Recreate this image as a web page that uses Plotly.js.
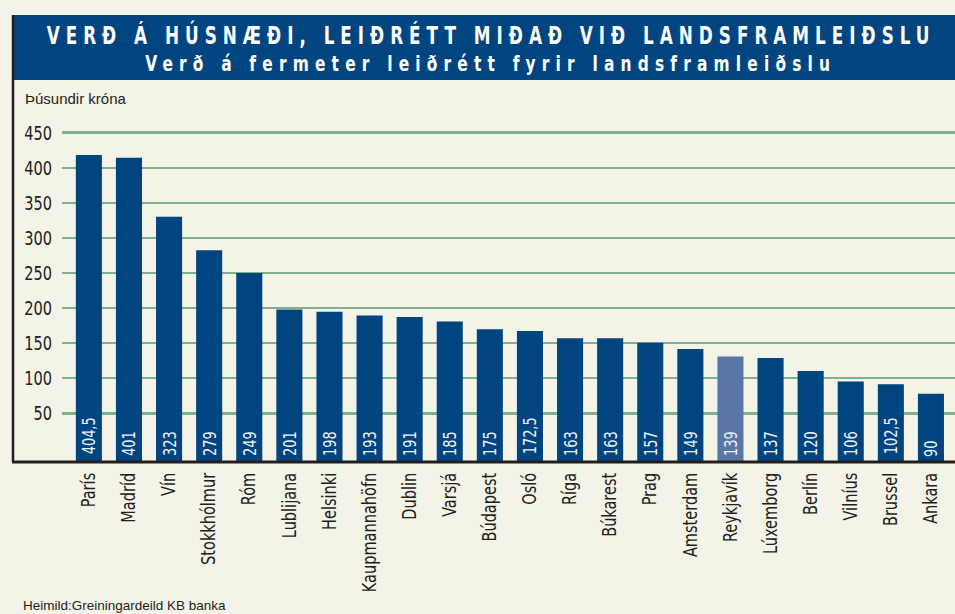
<!DOCTYPE html>
<html>
<head>
<meta charset="utf-8">
<script src="https://cdn.plot.ly/plotly-3.0.1.min.js"></script>
<style>
  html, body { margin: 0; padding: 0; background: #f4f3e8; }
  #chart { width: 955px; height: 614px; }
</style>
</head>
<body>
<div id="chart"></div>
<script>
// ---- Data ----
const cities = ["París", "Madríd", "Vín", "Stokkhólmur", "Róm", "Lublijana", "Helsinki",
  "Kaupmannahöfn", "Dublin", "Varsjá", "Búdapest", "Osló", "Ríga", "Búkarest", "Prag",
  "Amsterdam", "Reykjavík", "Lúxemborg", "Berlín", "Vilníus", "Brussel", "Ankara"];
const pricePerSqm = [404.5, 401, 323, 279, 249, 201, 198, 193, 191, 185, 175, 172.5,
  163, 163, 157, 149, 139, 137, 120, 106, 102.5, 90];
const highlightCity = "Reykjavík";
const yTickValues = [50, 100, 150, 200, 250, 300, 350, 400, 450];

const titleLine1 = "VERÐ Á HÚSNÆÐI, LEIÐRÉTT MIÐAÐ VIÐ LANDSFRAMLEIÐSLU";
const titleLine2 = "Verð á fermeter leiðrétt fyrir landsframleiðslu";
const unitLabel = "Þúsundir króna";
const sourceLabel = "Heimild:Greiningardeild KB banka";

// ---- Styling ----
const W = 955, H = 614;
const ML = 62, MR = 0, MT = 115, MB = 152;
const PW = W - ML - MR, PH = H - MT - MB;
const px2x = px => (px - ML) / PW;
const px2y = py => (H - MB - py) / PH;

const DARK = "#004580";
const LIGHT = "#5a76a7";
const BG = "#f4f3e8";
const GRID = "#80b08d";
const INK = "#231f20";
const NARROW = "DejaVu Sans Condensed, Liberation Sans Narrow, sans-serif";

const labels = pricePerSqm.map(v => String(v).replace(".", ","));
const colors = cities.map(c => c === highlightCity ? LIGHT : DARK);

const data = [
  // invisible helper so the printed scale axis (gridlines + tick labels) is drawn
  {
    type: "scatter", mode: "markers",
    x: [cities[0]], y: [yTickValues[0]],
    yaxis: "y",
    marker: { opacity: 0, size: 1 },
    hoverinfo: "skip", showlegend: false
  },
  {
    type: "bar",
    x: cities,
    y: pricePerSqm,
    yaxis: "y2",
    marker: { color: colors, line: { width: 0 } },
    text: labels,
    textposition: "inside",
    insidetextanchor: "start",
    textangle: -90,
    constraintext: "none",
    textfont: { family: NARROW, size: 18, color: "#eef1f6" },
    hoverinfo: "x+y"
  }
];

const layout = {
  width: W, height: H,
  margin: { l: ML, r: MR, t: MT, b: MB, pad: 0 },
  paper_bgcolor: BG,
  plot_bgcolor: BG,
  showlegend: false,
  bargap: 0.35,
  xaxis: {
    type: "category",
    range: [-0.67, 21.6],
    tickangle: -90,
    ticks: "",
    showgrid: false,
    zeroline: false,
    showline: false,
    ticklabelstandoff: 6,
    tickfont: { family: NARROW, size: 19, color: INK }
  },
  yaxis: {
    range: [-19.4, 475.2],
    tickmode: "array",
    tickvals: yTickValues,
    ticks: "",
    showgrid: true,
    gridcolor: GRID,
    gridwidth: 2.5,
    zeroline: false,
    showline: false,
    ticklabelstandoff: 9,
    tickfont: { family: NARROW, size: 19.5, color: INK }
  },
  yaxis2: {
    overlaying: "y",
    range: [0, 457.2],
    showgrid: false,
    zeroline: false,
    showline: false,
    showticklabels: false,
    ticks: ""
  },
  shapes: [
    { type: "rect", xref: "paper", yref: "paper",
      x0: px2x(12), x1: px2x(W), y0: px2y(80), y1: px2y(15),
      fillcolor: DARK, line: { width: 0 }, layer: "above" },
    { type: "line", xref: "paper", yref: "paper",
      x0: px2x(13), x1: px2x(13), y0: 0, y1: px2y(15),
      line: { color: INK, width: 2.5 } },
    { type: "line", xref: "paper", yref: "paper",
      x0: px2x(12), x1: 1, y0: 0, y1: 0,
      line: { color: INK, width: 3 } }
  ],
  annotations: [
    { text: titleLine1, xref: "paper", yref: "paper", x: px2x(487), y: px2y(35),
      xanchor: "center", yanchor: "middle", showarrow: false,
      font: { family: NARROW, size: 24, color: "#ffffff", weight: 700 } },
    { text: titleLine2, xref: "paper", yref: "paper", x: px2x(486), y: px2y(63),
      xanchor: "center", yanchor: "middle", showarrow: false,
      font: { family: NARROW, size: 22, color: "#ffffff", weight: 700 } },
    { text: unitLabel, xref: "paper", yref: "paper", x: px2x(23), y: px2y(98),
      xanchor: "left", yanchor: "middle", showarrow: false,
      font: { family: "Liberation Sans, Arial, sans-serif", size: 15, color: INK } },
    { text: sourceLabel, xref: "paper", yref: "paper", x: px2x(21), y: px2y(605),
      xanchor: "left", yanchor: "middle", showarrow: false,
      font: { family: "Liberation Sans, Arial, sans-serif", size: 13.5, color: INK } }
  ]
};

const gd = document.getElementById("chart");

function condense(sel, f) {
  gd.querySelectorAll(sel).forEach(function (t) {
    const L = t.getComputedTextLength();
    if (!L) return;
    t.setAttribute("textLength", (L * f).toFixed(2));
    t.setAttribute("lengthAdjust", "spacingAndGlyphs");
  });
}

Plotly.newPlot(gd, data, layout, { staticPlot: true, displayModeBar: false }).then(function () {
  // narrow, widely spaced header lettering like the printed original
  const squeeze = 0.78;
  const targets = [883, 685];
  targets.forEach(function (tw, i) {
    const t = gd.querySelector('g.annotation[data-index="' + i + '"] text.annotation-text');
    if (!t) return;
    const n = t.textContent.length;
    const L = t.getComputedTextLength();
    const ls = Math.max(0, (tw / squeeze - L) / (n - 1));
    t.style.letterSpacing = ls + "px";
    t.setAttribute("dx", (ls / 2).toFixed(2));
    t.style.transformBox = "fill-box";
    t.style.transformOrigin = "center";
    t.style.transform = "scaleX(" + squeeze + ")";
  });
  // condensed type like the printed original
  condense(".xtick text", 0.85);
  condense(".ytick text", 0.83);
  condense("text.bartext", 0.8);
});
</script>
</body>
</html>
